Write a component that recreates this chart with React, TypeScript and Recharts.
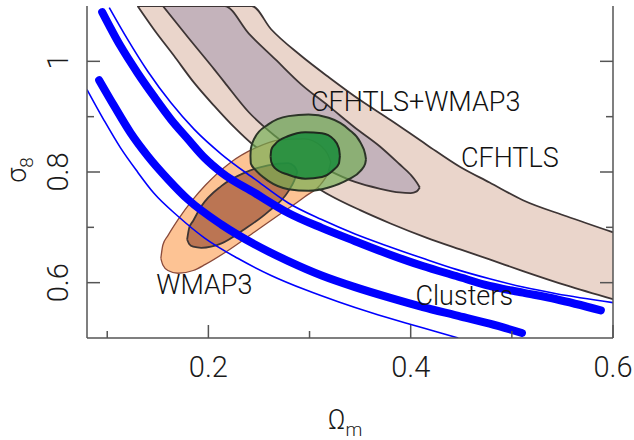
import React from 'react';
import { ComposedChart, XAxis, YAxis, Area, Line, ReferenceDot } from 'recharts';

// axes
const xDomain = [0.08, 0.6];
const yDomain = [0.5, 1.1];
const xTicks = [0.1, 0.2, 0.3, 0.4, 0.5, 0.6];
const yTicks = [0.6, 0.7, 0.8, 0.9, 1.0];
const xMajor = [0.2, 0.4, 0.6];
const yMajor = [0.6, 0.8, 1.0];

// contours: [omega_m, sigma8 low, sigma8 high]
const cfhtlsOuter: number[][] = [
  [0.130, 1.100, 1.100],
  [0.146, 1.058, 1.100],
  [0.166, 1.010, 1.100],
  [0.186, 0.961, 1.100],
  [0.206, 0.919, 1.100],
  [0.226, 0.880, 1.100],
  [0.243, 0.851, 1.100],
  [0.262, 0.826, 1.058],
  [0.291, 0.791, 1.011],
  [0.320, 0.758, 0.970],
  [0.350, 0.731, 0.930],
  [0.380, 0.707, 0.894],
  [0.416, 0.681, 0.849],
  [0.449, 0.660, 0.809],
  [0.478, 0.642, 0.781],
  [0.511, 0.621, 0.749],
  [0.554, 0.595, 0.720],
  [0.600, 0.570, 0.691],
];

const cfhtlsInner: number[][] = [
  [0.155, 1.100, 1.100],
  [0.180, 1.043, 1.100],
  [0.206, 0.985, 1.100],
  [0.216, 0.962, 1.100],
  [0.240, 0.908, 1.050],
  [0.266, 0.865, 1.004],
  [0.292, 0.830, 0.958],
  [0.319, 0.803, 0.919],
  [0.345, 0.782, 0.880],
  [0.369, 0.770, 0.847],
  [0.389, 0.763, 0.814],
  [0.400, 0.762, 0.795],
  [0.406, 0.765, 0.781],
  [0.409, 0.772, 0.772],
];

const wmapOuter: number[][] = [
  [0.153, 0.644, 0.644],
  [0.155, 0.632, 0.668],
  [0.160, 0.622, 0.685],
  [0.170, 0.617, 0.714],
  [0.185, 0.622, 0.751],
  [0.197, 0.633, 0.776],
  [0.221, 0.660, 0.816],
  [0.246, 0.692, 0.843],
  [0.271, 0.724, 0.858],
  [0.295, 0.755, 0.860],
  [0.312, 0.780, 0.846],
  [0.318, 0.798, 0.832],
  [0.321, 0.818, 0.818],
];

const wmapInner: number[][] = [
  [0.179, 0.678, 0.678],
  [0.181, 0.670, 0.699],
  [0.185, 0.665, 0.712],
  [0.193, 0.663, 0.738],
  [0.213, 0.671, 0.775],
  [0.236, 0.697, 0.799],
  [0.259, 0.728, 0.812],
  [0.279, 0.765, 0.816],
  [0.285, 0.785, 0.810],
  [0.288, 0.800, 0.800],
];

const jointOuter: number[][] = [
  [0.2416, 0.829, 0.829],
  [0.2420, 0.815, 0.842],
  [0.2459, 0.805, 0.862],
  [0.2592, 0.784, 0.886],
  [0.2791, 0.769, 0.901],
  [0.2990, 0.766, 0.904],
  [0.3189, 0.772, 0.898],
  [0.3388, 0.787, 0.877],
  [0.3504, 0.802, 0.853],
  [0.3550, 0.815, 0.832],
  [0.3558, 0.823, 0.823],
];

const jointInner: number[][] = [
  [0.2615, 0.828, 0.828],
  [0.2622, 0.818, 0.840],
  [0.2658, 0.807, 0.850],
  [0.2791, 0.795, 0.865],
  [0.2957, 0.788, 0.872],
  [0.3123, 0.791, 0.870],
  [0.3239, 0.804, 0.859],
  [0.3290, 0.815, 0.843],
  [0.3300, 0.829, 0.829],
];

// cluster constraints: [omega_m, sigma8]
const clusterUpperThick: number[][] = [
  [0.095, 1.089], [0.113, 1.028], [0.130, 0.979], [0.146, 0.937],
  [0.163, 0.895], [0.180, 0.859], [0.196, 0.826], [0.213, 0.799],
  [0.246, 0.762], [0.279, 0.726], [0.312, 0.699], [0.345, 0.675],
  [0.379, 0.651], [0.412, 0.630], [0.445, 0.612], [0.478, 0.594],
  [0.511, 0.582], [0.544, 0.570], [0.588, 0.550],
];

const clusterUpperThin: number[][] = [
  [0.102, 1.097], [0.120, 1.040], [0.140, 0.982], [0.163, 0.925],
  [0.186, 0.877], [0.213, 0.832], [0.246, 0.787], [0.279, 0.744],
  [0.312, 0.714], [0.345, 0.688], [0.379, 0.665], [0.412, 0.644],
  [0.445, 0.624], [0.478, 0.607], [0.511, 0.592], [0.544, 0.580],
  [0.600, 0.564],
];

const clusterLowerThick: number[][] = [
  [0.092, 0.966], [0.107, 0.919], [0.123, 0.871], [0.140, 0.829],
  [0.160, 0.787], [0.180, 0.750], [0.213, 0.705], [0.246, 0.669],
  [0.279, 0.639], [0.312, 0.613], [0.345, 0.592], [0.379, 0.573],
  [0.412, 0.556], [0.445, 0.541], [0.478, 0.526], [0.510, 0.509],
];

const clusterLowerThin: number[][] = [
  [0.080, 0.949], [0.097, 0.893], [0.113, 0.844], [0.130, 0.800],
  [0.146, 0.762], [0.170, 0.720], [0.196, 0.681], [0.229, 0.644],
  [0.262, 0.613], [0.296, 0.587], [0.329, 0.565], [0.362, 0.545],
  [0.395, 0.527], [0.428, 0.510], [0.447, 0.500],
];

// labels: [text, omega_m, sigma8]
const labels: [string, number, number][] = [
  ['CFHTLS+WMAP3', 0.405, 0.926],
  ['CFHTLS', 0.498, 0.825],
  ['WMAP3', 0.196, 0.595],
  ['Clusters', 0.453, 0.576],
];

const font = 'Roboto, "Liberation Sans", Arial, sans-serif';
const weight = 300;
const frame = '#555';
const ink = '#1a1a1a';

const toRange = (rows: number[][]) => rows.map(([x, lo, hi]) => ({ x, r: [lo, hi] }));
const toLine = (rows: number[][]) => rows.map(([x, y]) => ({ x, y }));

const BottomTick = (props: any) => {
  const { x, y, payload } = props;
  const major = xMajor.includes(payload.value);
  return (
    <g>
      <line x1={x} x2={x} y1={y} y2={y - (major ? 13 : 7)} stroke={frame} strokeWidth={1.5} />
      {major && (
        <text x={x} y={y + 39} textAnchor="middle" fontSize={29} fontWeight={weight} fill={ink} fontFamily={font}>
          {String(payload.value)}
        </text>
      )}
    </g>
  );
};

const TopTick = (props: any) => {
  const { x, y, payload } = props;
  const major = xMajor.includes(payload.value);
  return <line x1={x} x2={x} y1={y} y2={y + (major ? 13 : 7)} stroke={frame} strokeWidth={1.5} />;
};

const LeftTick = (props: any) => {
  const { x, y, payload } = props;
  const major = yMajor.includes(payload.value);
  const lx = x - 19;
  return (
    <g>
      <line x1={x} x2={x + (major ? 13 : 7)} y1={y} y2={y} stroke={frame} strokeWidth={1.5} />
      {major && (
        <text
          x={lx}
          y={y}
          transform={`rotate(-90 ${lx} ${y})`}
          textAnchor="middle"
          fontSize={29}
          fontWeight={weight}
          fill={ink}
          fontFamily={font}
        >
          {String(payload.value)}
        </text>
      )}
    </g>
  );
};

const RightTick = (props: any) => {
  const { x, y, payload } = props;
  const major = yMajor.includes(payload.value);
  return <line x1={x} x2={x - (major ? 13 : 7)} y1={y} y2={y} stroke={frame} strokeWidth={1.5} />;
};

const XTitle = (props: any) => {
  const vb = props.viewBox || { x: 87, y: 338, width: 526 };
  const cx = vb.x + vb.width / 2;
  return (
    <text x={cx - 5} y={vb.y + 91} textAnchor="middle" fontSize={27} fontWeight={weight} fill={ink} fontFamily={font}>
      Ω<tspan fontSize={19} dy={7}>m</tspan>
    </text>
  );
};

const YTitle = (props: any) => {
  const vb = props.viewBox || { x: 0, y: 6, height: 332 };
  const bx = vb.x + 26;
  const cy = vb.y + vb.height / 2 - 2;
  return (
    <text
      x={bx}
      y={cy}
      transform={`rotate(-90 ${bx} ${cy})`}
      textAnchor="middle"
      fontSize={27}
      fontWeight={weight}
      fill={ink}
      fontFamily={font}
    >
      σ<tspan fontSize={19} dy={7}>8</tspan>
    </text>
  );
};

const PlotLabel = (text: string) => (props: any) => (
  <text
    x={props.cx}
    y={props.cy}
    textAnchor="middle"
    dominantBaseline="central"
    fontSize={27}
    fontWeight={weight}
    fill="#111"
    fontFamily={font}
  >
    {text}
  </text>
);

const contourStroke = '#3d3535';

export default function App() {
  return (
    <div style={{ position: 'absolute', left: 0, top: 0, background: '#fff' }}>
      <ComposedChart width={634} height={440} margin={{ top: 6, right: 0, bottom: 0, left: 0 }}>
        <XAxis
          xAxisId="b"
          type="number"
          dataKey="x"
          orientation="bottom"
          domain={xDomain}
          allowDataOverflow
          ticks={xTicks}
          interval={0}
          height={102}
          tickLine={false}
          tickSize={0}
          tickMargin={0}
          axisLine={{ stroke: frame, strokeWidth: 1.5 }}
          tick={<BottomTick />}
          label={<XTitle />}
        />
        <XAxis
          xAxisId="t"
          type="number"
          dataKey="x"
          orientation="top"
          domain={xDomain}
          allowDataOverflow
          ticks={xTicks}
          interval={0}
          height={0}
          tickLine={false}
          tickSize={0}
          tickMargin={0}
          axisLine={{ stroke: frame, strokeWidth: 1.5 }}
          tick={<TopTick />}
        />
        <YAxis
          yAxisId="l"
          type="number"
          orientation="left"
          domain={yDomain}
          allowDataOverflow
          ticks={yTicks}
          interval={0}
          width={87}
          tickLine={false}
          tickSize={0}
          tickMargin={0}
          axisLine={{ stroke: frame, strokeWidth: 1.5 }}
          tick={<LeftTick />}
          label={<YTitle />}
        />
        <YAxis
          yAxisId="r"
          type="number"
          orientation="right"
          domain={yDomain}
          allowDataOverflow
          ticks={yTicks}
          interval={0}
          width={21}
          tickLine={false}
          tickSize={0}
          tickMargin={0}
          axisLine={{ stroke: frame, strokeWidth: 1.5 }}
          tick={<RightTick />}
        />

        <Area xAxisId="b" yAxisId="l" data={toRange(cfhtlsOuter)} dataKey="r" type="monotone"
          fill="#ead5cb" fillOpacity={1} stroke={contourStroke} strokeWidth={1.8}
          dot={false} activeDot={false} isAnimationActive={false} />
        <Area xAxisId="b" yAxisId="l" data={toRange(cfhtlsInner)} dataKey="r" type="monotone"
          fill="#c4b3bb" fillOpacity={1} stroke={contourStroke} strokeWidth={1.8}
          dot={false} activeDot={false} isAnimationActive={false} />
        <Area xAxisId="b" yAxisId="l" data={toRange(wmapOuter)} dataKey="r" type="monotone"
          fill="#fdc394" fillOpacity={1} stroke="#8a4a3a" strokeWidth={1.3}
          dot={false} activeDot={false} isAnimationActive={false} />
        <Area xAxisId="b" yAxisId="l" data={toRange(wmapInner)} dataKey="r" type="monotone"
          fill="#bb7553" fillOpacity={1} stroke={contourStroke} strokeWidth={1.8}
          dot={false} activeDot={false} isAnimationActive={false} />

        <Line xAxisId="b" yAxisId="l" data={toLine(clusterLowerThin)} dataKey="y" type="monotone"
          stroke="#0000ff" strokeWidth={1.6} dot={false} activeDot={false} isAnimationActive={false} />
        <Line xAxisId="b" yAxisId="l" data={toLine(clusterLowerThick)} dataKey="y" type="monotone"
          stroke="#0000ff" strokeWidth={8} strokeLinecap="round" dot={false} activeDot={false} isAnimationActive={false} />
        <Line xAxisId="b" yAxisId="l" data={toLine(clusterUpperThin)} dataKey="y" type="monotone"
          stroke="#0000ff" strokeWidth={1.6} dot={false} activeDot={false} isAnimationActive={false} />
        <Line xAxisId="b" yAxisId="l" data={toLine(clusterUpperThick)} dataKey="y" type="monotone"
          stroke="#0000ff" strokeWidth={8} strokeLinecap="round" dot={false} activeDot={false} isAnimationActive={false} />

        <Area xAxisId="b" yAxisId="l" data={toRange(jointOuter)} dataKey="r" type="monotone"
          fill="#6fae50" fillOpacity={0.65} stroke="#2c3528" strokeWidth={2}
          dot={false} activeDot={false} isAnimationActive={false} />
        <Area xAxisId="b" yAxisId="l" data={toRange(jointInner)} dataKey="r" type="monotone"
          fill="#1a8c3c" fillOpacity={0.85} stroke="#1f2a1f" strokeWidth={2}
          dot={false} activeDot={false} isAnimationActive={false} />

        {labels.map(([text, x, y]) => (
          <ReferenceDot key={text} xAxisId="b" yAxisId="l" x={x} y={y} r={0}
            shape={PlotLabel(text)} ifOverflow="visible" />
        ))}
      </ComposedChart>
    </div>
  );
}
